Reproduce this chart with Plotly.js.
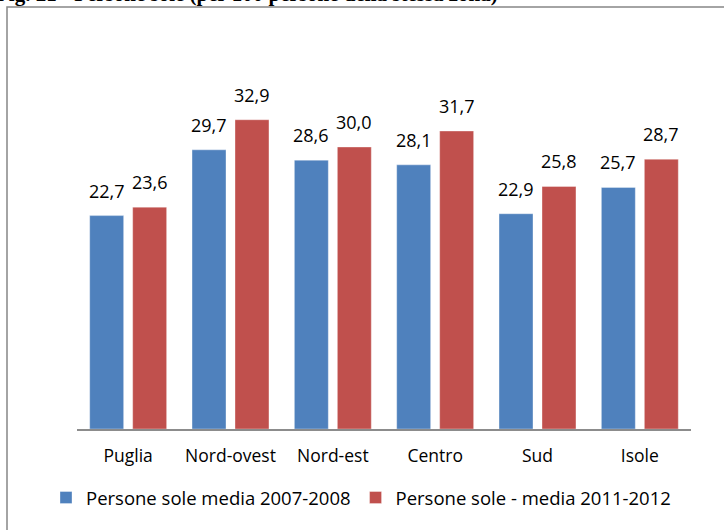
<!DOCTYPE html>
<html>
<head>
<meta charset="utf-8">
<script src="https://cdn.plot.ly/plotly-3.0.1.min.js"></script>
<style>
  html, body { margin: 0; padding: 0; background: #ffffff; }
  #chart { width: 724px; height: 530px; }
</style>
</head>
<body>
<div id="chart"></div>
<script>
const categories = ["Puglia", "Nord-ovest", "Nord-est", "Centro", "Sud", "Isole"];
const series1Name = "Persone sole media 2007-2008";
const series1Values = [22.7, 29.7, 28.6, 28.1, 22.9, 25.7];
const series2Name = "Persone sole - media 2011-2012";
const series2Values = [23.6, 32.9, 30.0, 31.7, 25.8, 28.7];
const titleText = "Fig. 21 - Persone sole (per 100 persone della stessa zona)";

const W = 724, H = 530;
const M = { l: 77, r: 33, t: 100, b: 101 };
const pw = W - M.l - M.r, ph = H - M.t - M.b;
const px2x = (p) => (p - M.l) / pw;
const px2y = (p) => (H - M.b - p) / ph;

const FONT = "Open Sans, Lato, DejaVu Sans, sans-serif";
const fmt = (v) => v.toFixed(1).replace(".", ",");

const traces = [
  {
    type: "bar", name: series1Name, x: categories, y: series1Values,
    marker: { color: "#4F81BD", line: { color: "rgba(255,255,255,0.35)", width: 1 } },
    hoverinfo: "none"
  },
  {
    type: "bar", name: series2Name, x: categories, y: series2Values,
    marker: { color: "#C0504D", line: { color: "rgba(255,255,255,0.35)", width: 1 } },
    hoverinfo: "none"
  }
];

const halfSlot = 21.5;
const annotations = [];
categories.forEach((c, i) => {
  annotations.push({
    x: c, y: series1Values[i], xref: "x", yref: "y", text: fmt(series1Values[i]),
    showarrow: false, xanchor: "center", yanchor: "bottom", xshift: -halfSlot, yshift: 11,
    font: { family: FONT, size: 18, color: "#000000" }
  });
  annotations.push({
    x: c, y: series2Values[i], xref: "x", yref: "y", text: fmt(series2Values[i]),
    showarrow: false, xanchor: "center", yanchor: "bottom", xshift: halfSlot, yshift: 11,
    font: { family: FONT, size: 18, color: "#000000" }
  });
});
annotations.push({
  xref: "paper", yref: "paper", x: px2x(-6), y: px2y(8), xanchor: "left", yanchor: "bottom",
  text: "<b>" + titleText + "</b>", showarrow: false,
  font: { family: "Liberation Serif, Times New Roman, serif", size: 21, color: "#000000" }
});

const layout = {
  width: W, height: H,
  margin: M,
  paper_bgcolor: "#ffffff", plot_bgcolor: "#ffffff",
  barmode: "group", bargap: 0.16, bargroupgap: 0.21,
  showlegend: true,
  legend: {
    orientation: "h", x: px2x(46), y: px2y(498), xanchor: "left", yanchor: "middle",
    font: { family: FONT, size: 18.5, color: "#000000" },
    bgcolor: "rgba(0,0,0,0)", traceorder: "normal"
  },
  xaxis: {
    showline: true, linecolor: "#8c8c8c", linewidth: 1.5,
    ticks: "", showgrid: false, zeroline: false, ticklabelstandoff: 10,
    tickfont: { family: FONT, size: 17.5, color: "#000000" },
    fixedrange: true
  },
  yaxis: {
    range: [0, 35], visible: false, showgrid: false, zeroline: false, fixedrange: true
  },
  shapes: [{
    type: "rect", xref: "paper", yref: "paper",
    x0: px2x(7), x1: px2x(740), y0: px2y(545), y1: px2y(7),
    line: { color: "#878787", width: 1.5 }, fillcolor: "rgba(0,0,0,0)", layer: "below"
  }],
  annotations: annotations
};

Plotly.newPlot("chart", traces, layout, { displayModeBar: false, staticPlot: true });
</script>
</body>
</html>
